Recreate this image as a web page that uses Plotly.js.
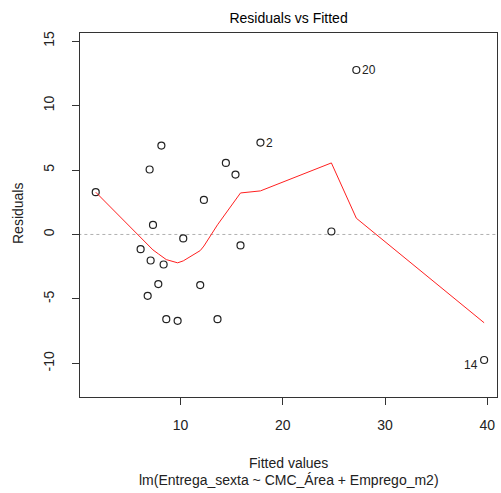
<!DOCTYPE html>
<html>
<head>
<meta charset="utf-8">
<script src="https://cdn.plot.ly/plotly-3.0.1.min.js"></script>
<style>html,body{margin:0;padding:0;background:#fff;}#chart{width:501px;height:493px;}</style>
</head>
<body>
<div id="chart"></div>
<script>
// Fitted values and residuals
const fitted = [1.70, 6.09, 6.78, 6.97, 7.07, 7.30, 7.82, 8.12, 8.34, 8.60, 9.71, 10.26, 11.92, 12.28, 13.61, 14.43, 15.37, 15.86, 17.81, 24.75, 27.19, 39.69];
const residuals = [3.28, -1.14, -4.76, 5.04, -2.02, 0.74, -3.85, 6.90, -2.33, -6.57, -6.70, -0.31, -3.93, 2.68, -6.57, 5.55, 4.65, -0.85, 7.13, 0.23, 12.76, -9.74];
// smoother (lowess) values at the sorted fitted values
const smoothY = [3.28, -0.24, -0.80, -0.95, -1.03, -1.20, -1.50, -1.65, -1.80, -1.95, -2.20, -2.05, -1.25, -0.90, 0.75, 1.65, 2.70, 3.22, 3.38, 5.55, 1.26, -6.85];
// labelled observations
const labelIds = ["2", "20", "14"];
const labelX = [17.81, 27.19, 39.69];
const labelY = [7.13, 12.76, -9.74];
const labelSide = ["right", "right", "left"];
const xTicks = [10, 20, 30, 40];
const yTicks = [-10, -5, 0, 5, 10, 15];

const font = "Liberation Sans, Arial, sans-serif";

const traces = [
  {
    x: [0, 42], y: [0, 0], mode: "lines", type: "scatter",
    line: {color: "#b0b0b0", width: 1, dash: "dot"}, hoverinfo: "skip", showlegend: false
  },
  {
    x: fitted, y: residuals, mode: "markers", type: "scatter",
    marker: {symbol: "circle-open", size: 7, color: "#222", line: {width: 1.2, color: "#222"}},
    showlegend: false
  },
  {
    x: fitted, y: smoothY, mode: "lines", type: "scatter",
    line: {color: "#ff2020", width: 1}, showlegend: false
  }
];

const pointLabels = labelIds.map((t, i) => ({
  text: t, x: labelX[i], y: labelY[i], xref: "x", yref: "y",
  xanchor: labelSide[i] === "right" ? "left" : "right", yanchor: "middle",
  xshift: labelSide[i] === "right" ? 4 : -4, yshift: labelSide[i] === "right" ? 0 : -5,
  showarrow: false, font: {family: font, size: 12, color: "#222"}
}));

const layout = {
  width: 501, height: 493,
  margin: {l: 80, r: 4, t: 33, b: 96},
  paper_bgcolor: "#fff", plot_bgcolor: "#fff",
  showlegend: false,
  title: {text: "Residuals vs Fitted", font: {family: font, size: 14, color: "#000"},
          x: 0.576, xanchor: "center", y: 0.9635, yanchor: "middle"},
  xaxis: {
    range: [0.16, 40.95], tickvals: xTicks, ticktext: xTicks.map(String),
    ticks: "outside", ticklen: 7, tickcolor: "#333", tickwidth: 1,
    showline: true, linecolor: "#333", linewidth: 1, mirror: true,
    showgrid: false, zeroline: false,
    tickfont: {family: font, size: 14, color: "#222"}, ticklabelstandoff: 8
  },
  yaxis: {
    range: [-12.61, 15.63], tickvals: yTicks, ticktext: yTicks.map(String),
    ticks: "outside", ticklen: 7, tickcolor: "#333", tickwidth: 1, tickangle: -90,
    showline: true, linecolor: "#333", linewidth: 1, mirror: true,
    showgrid: false, zeroline: false,
    tickfont: {family: font, size: 14, color: "#222"}, ticklabelstandoff: 12
  },
  annotations: pointLabels.concat([
    {text: "Fitted values", xref: "paper", yref: "paper", x: 0.5, y: -(463 - 397) / 364, xanchor: "center", yanchor: "middle",
     showarrow: false, font: {family: font, size: 14, color: "#222"}},
    {text: "lm(Entrega_sexta ~ CMC_Área + Emprego_m2)", xref: "paper", yref: "paper", x: 0.5, y: -(480 - 397) / 364, xanchor: "center", yanchor: "middle",
     showarrow: false, font: {family: font, size: 14, color: "#222"}},
    {text: "Residuals", xref: "paper", yref: "paper", x: -(80 - 18) / 417, y: (397 - 214) / 364, xanchor: "center", yanchor: "middle",
     textangle: -90, showarrow: false, font: {family: font, size: 14, color: "#222"}}
  ])
};

Plotly.newPlot("chart", traces, layout, {displayModeBar: false, staticPlot: true});
</script>
</body>
</html>
